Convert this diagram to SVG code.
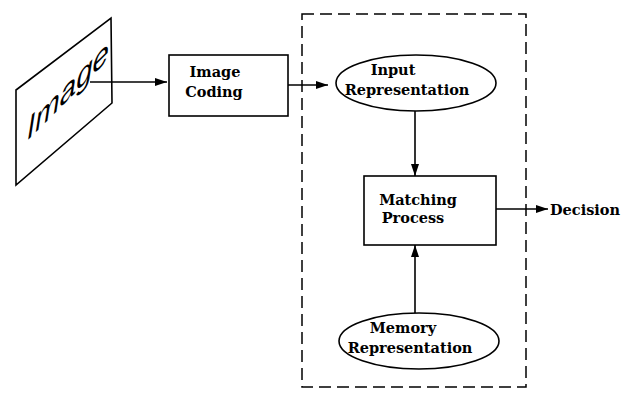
<svg xmlns="http://www.w3.org/2000/svg" width="630" height="398" viewBox="0 0 630 398">
<defs>
<marker id="arr" viewBox="0 0 12 8" refX="12" refY="4" markerWidth="12" markerHeight="8" markerUnits="userSpaceOnUse" orient="auto">
<path d="M0,0 L12,4 L0,8 Z" fill="#000"/>
</marker>
</defs>
<style>
.shape{fill:#fff;stroke:#000;stroke-width:1.6}
.lbl{font-family:"DejaVu Serif","Liberation Serif",serif;font-weight:bold;font-size:14.5px;fill:#000;text-anchor:middle}
.conn{stroke:#000;stroke-width:1.6;fill:none;marker-end:url(#arr)}
</style>
<rect width="630" height="398" fill="#fff"/>
<g id="boundary">
<rect x="302" y="14" width="224" height="373" fill="none" stroke="#000" stroke-width="1.5" stroke-dasharray="12,6"/>
</g>
<g id="image">
<polygon class="shape" points="16,90 111,18 112,103 16,185"/>
<text x="0" y="0" transform="translate(27,141) skewY(-45)" font-family="'Liberation Sans',Arial,sans-serif" font-style="italic" font-size="31" textLength="82" lengthAdjust="spacingAndGlyphs" fill="#000">Image</text>
</g>
<g id="image-coding">
<rect class="shape" x="169" y="55" width="119" height="61"/>
<text class="lbl" x="215" y="77">Image</text>
<text class="lbl" x="214" y="97">Coding</text>
</g>
<g id="input-representation">
<ellipse class="shape" cx="416" cy="83" rx="80" ry="28"/>
<text class="lbl" x="393" y="75">Input</text>
<text class="lbl" x="407" y="95">Representation</text>
</g>
<g id="matching-process">
<rect class="shape" x="364" y="176" width="132" height="69"/>
<text class="lbl" x="418" y="205">Matching</text>
<text class="lbl" x="413" y="223">Process</text>
</g>
<g id="memory-representation">
<ellipse class="shape" cx="419" cy="341" rx="80" ry="28"/>
<text class="lbl" x="403" y="333">Memory</text>
<text class="lbl" x="410" y="353">Representation</text>
</g>
<g id="decision">
<text class="lbl" x="550" y="215" style="text-anchor:start">Decision</text>
</g>
<g id="connectors">
<line class="conn" x1="90" y1="82" x2="167" y2="82"/>
<line class="conn" x1="288" y1="85" x2="328" y2="85"/>
<line class="conn" x1="415" y1="111" x2="415" y2="176"/>
<line class="conn" x1="496" y1="209" x2="548" y2="209"/>
<line class="conn" x1="415" y1="313" x2="415" y2="245"/>
</g>
</svg>
